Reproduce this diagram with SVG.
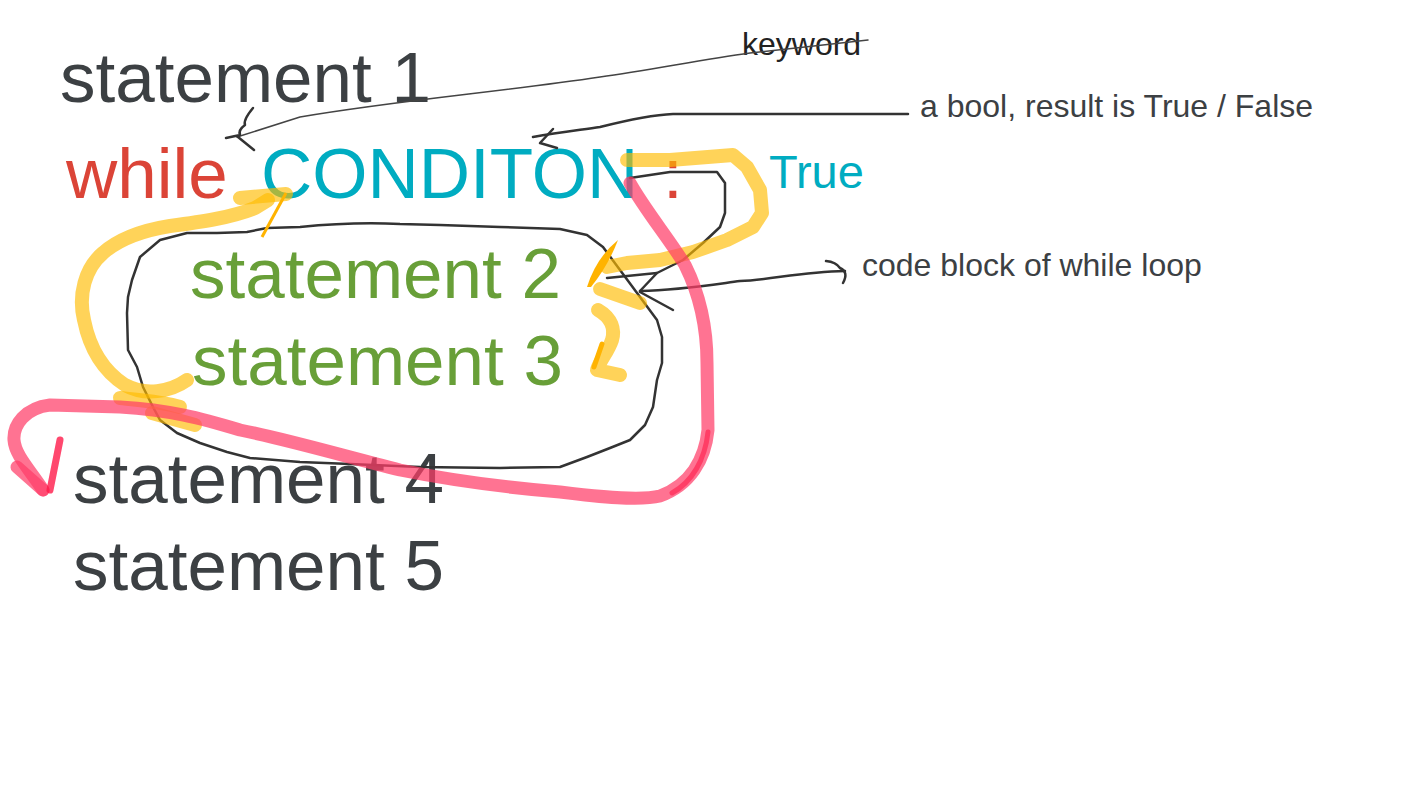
<svg xmlns="http://www.w3.org/2000/svg" width="1422" height="800" viewBox="0 0 1422 800">
<style>
  text { font-family: "Liberation Sans", Arial, sans-serif; }
  .big { font-size: 71px; }
  .dark { fill: #3c4043; }
  .red { fill: #db4437; }
  .cyan { fill: #00acc1; }
  .green { fill: #689f38; }
  .note { font-size: 32px; fill: #3c4043; }
  .yel { fill: none; stroke: #ffbb00; stroke-opacity: 0.65; stroke-width: 14; stroke-linecap: round; stroke-linejoin: round; }
  .pink { fill: none; stroke: #ff3d68; stroke-opacity: 0.72; stroke-width: 13; stroke-linecap: round; stroke-linejoin: round; }
  .ink { fill: none; stroke: #333; stroke-width: 2.5; stroke-linecap: round; stroke-linejoin: round; }
  .thin { fill: none; stroke: #444; stroke-width: 1.5; stroke-linecap: round; stroke-linejoin: round; }
</style>
<rect width="1422" height="800" fill="#fff"/>

<g id="stmt1"><text class="big dark" x="60" y="102">statement 1</text></g>
<g id="while-line">
  <text class="big red" x="66" y="198">while</text>
  <text class="big cyan" x="261" y="198">CONDITON</text>
  <text class="big red" x="663" y="198">:</text>
</g>
<g id="true-label"><text class="cyan" x="769" y="188" font-size="47">True</text></g>
<g id="stmt2"><text class="big green" x="190" y="298">statement 2</text></g>
<g id="stmt3"><text class="big green" x="192" y="385">statement 3</text></g>
<g id="stmt4"><text class="big dark" x="73" y="503">statement 4</text></g>
<g id="stmt5"><text class="big dark" x="73" y="590">statement 5</text></g>
<g id="keyword-label"><text x="742" y="55" font-size="32" fill="#222">keyword</text></g>
<g id="bool-label"><text class="note" x="920" y="117">a bool, result is True / False</text></g>
<g id="block-label"><text class="note" x="862" y="276">code block of while loop</text></g>

<g id="connectors">
  <!-- code block outline -->
  <path class="ink" d="M 187,233 L 217,233 L 247,232 L 267,228 L 300,227 C 330,224 360,222 400,224 L 440,225 C 480,226 520,228 560,229 L 587,235 L 603,247 L 620,270 L 640,297 L 657,320 L 662,337 L 662,363 L 657,380 L 653,407 L 645,425 L 630,440 L 610,448 L 587,457 L 560,467 L 500,468 L 420,467 L 350,464 L 300,462 L 250,458 L 227,452 L 200,443 L 177,433 L 160,420 L 153,407 L 143,387 L 137,367 L 128,350 L 127,313 L 128,297 L 132,280 L 140,257 L 160,240 Z"/>
  <!-- small black loop from condition -->
  <path class="ink" d="M 630,178 L 670,172 L 717,172 L 725,183 L 725,213 L 720,227 L 703,243 L 683,260 L 657,273 L 607,278"/>
  <path class="ink" d="M 657,273 L 640,291"/>
  <!-- code block arrow -->
  <path class="ink" stroke-width="3" d="M 845,271 C 800,272 770,280 740,281 C 710,285 680,290 640,291"/>
  <path class="ink" d="M 640,292 L 673,310"/>
  <path class="ink" d="M 826,261 Q 836,262 840,268 Q 849,272 843,283"/>
  <!-- bool arrow -->
  <path class="ink" stroke-width="3" d="M 908,114 L 673,114 C 650,115 620,122 600,127 C 580,130 560,132 533,137"/>
  <path class="ink" d="M 553,129 L 540,143 L 557,148"/>
  <!-- keyword arrow -->
  <path class="thin" d="M 868,40 L 750,53 C 700,60 650,70 600,77 C 500,92 400,100 300,117 L 237,137"/>
  <path class="ink" stroke-width="2" d="M 253,108 Q 243,120 245,125 Q 238,130 240,135 L 226,138 M 238,137 L 254,150"/>

  <!-- yellow loop back to condition -->
  <path class="yel" d="M 187,380 C 170,392 145,396 125,385 C 105,372 90,350 84,320 C 78,295 85,268 103,253 C 120,238 145,230 170,226 C 200,222 230,218 255,208 L 268,200"/>
  <path class="yel" d="M 240,198 L 286,194"/>
  <path fill="none" stroke="#ffb300" stroke-width="3" d="M 286,193 L 262,237"/>
  <path class="yel" d="M 120,398 C 140,400 165,402 180,407"/>
  <path class="yel" d="M 152,413 L 195,425"/>
  <!-- yellow True branch -->
  <path class="yel" d="M 627,160 L 670,160 L 733,155 L 747,167 L 760,190 L 762,213 L 753,227 L 727,240 L 693,252 L 660,260 L 627,263 L 607,267"/>
  <path fill="#ffb300" d="M 587,287 Q 596,258 618,240 Q 608,266 591,287 Z"/>
  <path class="yel" d="M 600,289 L 640,303"/>
  <!-- yellow small down arrow -->
  <path class="yel" d="M 598,310 C 612,318 615,330 612,340 C 608,352 600,360 597,370 L 620,375"/>
  <path fill="none" stroke="#ffb300" stroke-width="5" stroke-linecap="round" d="M 602,344 L 594,367"/>

  <!-- pink exit path -->
  <path class="pink" d="M 630,183 C 645,210 670,240 685,265 C 700,295 707,330 707,363 L 708,430 C 705,460 690,485 660,496 C 640,501 600,497 560,492 C 500,487 440,478 400,470 C 340,455 290,440 240,430 C 200,418 170,410 120,407 L 50,405 C 25,408 13,425 14,440 C 15,455 30,470 43,490"/>
  <path class="pink" d="M 17,467 L 43,490"/>
  <path fill="none" stroke="#ff1a4a" stroke-opacity="0.8" stroke-width="7" stroke-linecap="round" d="M 60,440 L 50,490"/>
  <path fill="none" stroke="#ff1a4a" stroke-opacity="0.6" stroke-width="5" stroke-linecap="round" d="M 708,432 C 705,460 692,482 672,493"/>
</g>
</svg>
